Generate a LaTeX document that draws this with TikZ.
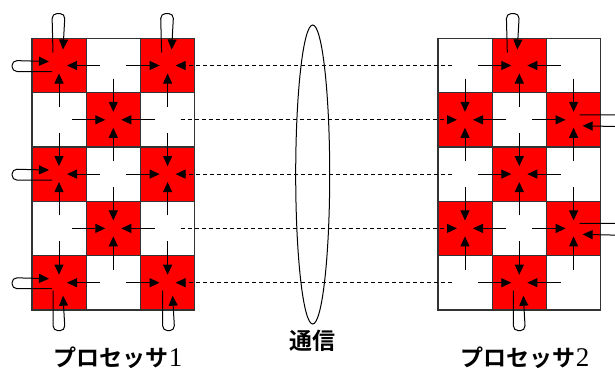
\documentclass[tikz,border=0pt]{standalone}
\usepackage{fontspec}
\setmainfont{Liberation Serif}
\newfontfamily\jpfont{Noto Sans CJK JP}[BoldFont={Noto Sans CJK JP Bold}]
\usepackage{tikz}
\usetikzlibrary{arrows.meta,calc,shapes.geometric}
\tikzset{
cell/.style={draw=black!80,line width=1.3pt,minimum size=54.3pt,inner sep=0pt},
commline/.style={dash pattern=on 4pt off 3pt},
jplabel/.style={font=\jpfont\bfseries\fontsize{23}{25}\selectfont,inner sep=0pt}
}
\newcommand\flow[2]{\draw[->]($(#1)!13pt!(#2)$)--($(#2)!8pt!(#1)$);}
\newcommand\commflow[2]{\draw[->,commline]($(#1)!13pt!(#2)$)--($(#2)!8pt!(#1)$);}
\newcommand\looptop[2]{\draw[->,rounded corners=5pt]($(#1)+(-6+#2,-13)$)--($(#1)+(-7+#2,-52)$)--($(#1)+(6+#2,-52)$)--($(#1)+(4+#2,-16)$);}
\newcommand\loopbottom[2]{\draw[->,rounded corners=5pt]($(#1)+(-6+#2,8)$)--($(#1)+(-6+#2,48)$)--($(#1)+(6+#2,48)$)--($(#1)+(4+#2,13)$);}
\newcommand\loopleft[1]{\draw[->,rounded corners=5pt]($(#1)+(-7,6)$)--($(#1)+(-47,6)$)--($(#1)+(-47,-5)$)--($(#1)+(-10,-4)$);}
\newcommand\loopright[1]{\draw[->,rounded corners=5pt]($(#1)+(6,-5)$)--($(#1)+(55,-5)$)--($(#1)+(55,7)$)--($(#1)+(9,6)$);}
\newcommand\procdigit[1]{{\rmfamily\mdseries\fontsize{27}{27}\selectfont#1}}
\begin{document}
\begin{tikzpicture}[x=1pt,y=-1pt,line width=1pt,>={Triangle[length=10pt,width=9pt]}]
\useasboundingbox(0,0)rectangle(615,372);
\clip(0,0)rectangle(615,372);
\foreach \gg/\pp/\xx in {L/0/59,R/1/465}{
\foreach \ii in {0,...,4}{
\foreach \jj in {0,1,2}{
\ifodd\numexpr\ii+\jj+\pp\relax\def\cellcol{white}\else\def\cellcol{red}\fi
\node[cell,fill=\cellcol](\gg\ii\jj) at ({\xx+54.3*\jj},{65.5+54.3*\ii}){};
}}}
\node[draw,ellipse,minimum width=34pt,minimum height=299pt,inner sep=0pt](link) at (312.7,174.5){};
\node[jplabel](linklabel) at (312.5,341){通信};
\node[jplabel](proc1) at (118,358){プロセッサ\procdigit{1}};
\node[jplabel](proc2) at (525,358){プロセッサ\procdigit{2}};
\foreach \gg/\pp in {L/0,R/1}{
\foreach \ii in {0,...,4}{
\foreach \jj [evaluate=\jj as \kk using int(\jj+1)] in {0,1}{
\ifodd\numexpr\ii+\jj+\pp\relax\flow{\gg\ii\jj}{\gg\ii\kk}\else\flow{\gg\ii\kk}{\gg\ii\jj}\fi
}}
\foreach \ii [evaluate=\ii as \kk using int(\ii+1)] in {0,...,3}{
\foreach \jj in {0,1,2}{
\ifodd\numexpr\ii+\jj+\pp\relax\flow{\gg\ii\jj}{\gg\kk\jj}\else\flow{\gg\kk\jj}{\gg\ii\jj}\fi
}}
}
\foreach \ii in {0,...,4}{
\ifodd\numexpr\ii\relax\commflow{L\ii2}{R\ii0}\else\commflow{R\ii0}{L\ii2}\fi
}
\looptop{L00}{0}\loopleft{L00}\looptop{L02}{0}
\loopleft{L20}
\loopleft{L40}\loopbottom{L40}{0}\loopbottom{L42}{1}
\looptop{R01}{-6}\loopright{R12}\loopright{R32}\loopbottom{R41}{0}
\end{tikzpicture}
\end{document}
